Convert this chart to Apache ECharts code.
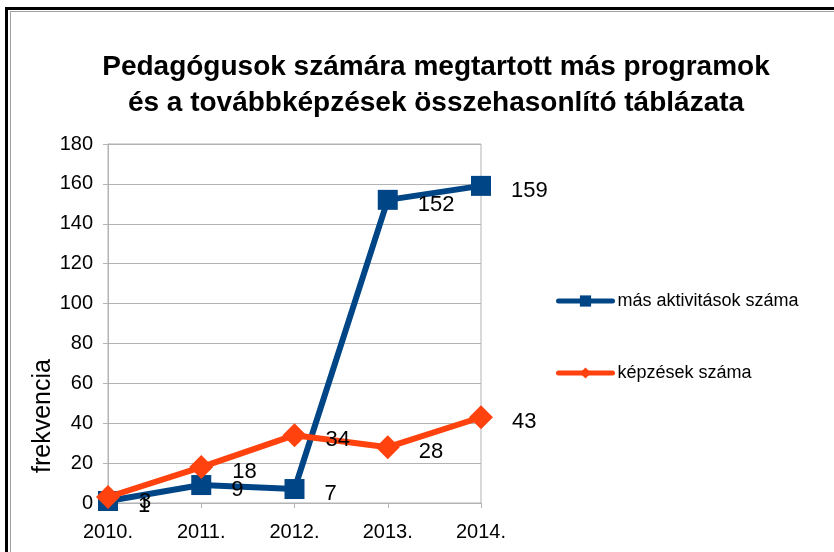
<!DOCTYPE html>
<html>
<head>
<meta charset="utf-8">
<script src="https://cdn.jsdelivr.net/npm/echarts@6/dist/echarts.min.js"></script>
<style>
html,body{margin:0;padding:0;background:#fff;}
#c{width:834px;height:552px;}
</style>
</head>
<body>
<div id="c"></div>
<script>
var titleText = 'Pedagógusok számára megtartott más programok\nés a továbbképzések összehasonlító táblázata';
var yAxisName = 'frekvencia';
var categories = ['2010.', '2011.', '2012.', '2013.', '2014.'];
var seriesNames = ['más aktivitások száma', 'képzések száma'];
var masAktivitasok = [1, 9, 7, 152, 159];
var kepzesek = [3, 18, 34, 28, 43];
var yTicks = { min: 0, max: 180, interval: 20 };

var FONT = '"Liberation Sans", Arial, sans-serif';
var chart = echarts.init(document.getElementById('c'), null, { renderer: 'canvas' });
var gray = '#b3b3b3';
chart.setOption({
  backgroundColor: '#ffffff',
  animation: false,
  title: {
    text: titleText,
    left: 436,
    top: 49,
    padding: 0,
    textAlign: 'center',
    textStyle: { fontFamily: FONT, fontSize: 28, fontWeight: 'bold', color: '#000', lineHeight: 36 }
  },
  graphic: [
    { type: 'rect', shape: { x: 5, y: 7, width: 829, height: 3 }, style: { fill: '#000' }, silent: true },
    { type: 'rect', shape: { x: 5, y: 7, width: 3, height: 545 }, style: { fill: '#000' }, silent: true },
    { type: 'rect', shape: { x: 10, y: 11, width: 824, height: 1 }, style: { fill: '#a0a0a0' }, silent: true },
    { type: 'rect', shape: { x: 10, y: 11, width: 1, height: 541 }, style: { fill: '#a0a0a0' }, silent: true },
    { type: 'text', x: 43, y: 416, rotation: Math.PI / 2,
      style: { text: yAxisName, fontFamily: FONT, fontSize: 25, fill: '#000', align: 'center', verticalAlign: 'middle' } }
  ],
  legend: {
    orient: 'vertical',
    left: 556,
    top: 292,
    padding: 0,
    itemWidth: 54,
    itemHeight: 14,
    itemGap: 54,
    lineStyle: { width: 5, cap: 'round' },
    textStyle: { fontFamily: FONT, fontSize: 18, color: '#000' },
    data: seriesNames
  },
  grid: { left: 108, right: 353, top: 144, bottom: 49, show: true, borderColor: gray, borderWidth: 1, containLabel: false },
  xAxis: {
    type: 'category',
    data: categories,
    boundaryGap: false,
    axisLine: { lineStyle: { color: gray, width: 1 } },
    axisTick: { show: true, length: 5, lineStyle: { color: gray } },
    axisLabel: { fontFamily: FONT, fontSize: 20, color: '#000', margin: 19 },
    splitLine: { show: false }
  },
  yAxis: {
    type: 'value',
    min: yTicks.min, max: yTicks.max, interval: yTicks.interval,
    axisLine: { show: true, lineStyle: { color: gray, width: 1 } },
    axisTick: { show: true, length: 5, lineStyle: { color: gray } },
    axisLabel: { fontFamily: FONT, fontSize: 20, color: '#000', margin: 15 },
    splitLine: { show: true, lineStyle: { color: gray, width: 1 } }
  },
  series: [
    {
      name: seriesNames[0],
      type: 'line',
      data: masAktivitasok,
      color: '#004586',
      symbol: 'rect',
      symbolSize: 20,
      lineStyle: { width: 6, color: '#004586' },
      itemStyle: { color: '#004586' },
      label: { show: true, position: 'right', distance: 20, offset: [0, 5], fontFamily: FONT, fontSize: 22, color: '#000' },
      z: 2
    },
    {
      name: seriesNames[1],
      type: 'line',
      data: kepzesek,
      color: '#ff420e',
      symbol: 'diamond',
      symbolSize: 24,
      lineStyle: { width: 6, color: '#ff420e' },
      itemStyle: { color: '#ff420e' },
      label: { show: true, position: 'right', distance: 19, offset: [0, 5], fontFamily: FONT, fontSize: 22, color: '#000' },
      z: 3
    }
  ]
});
</script>
</body>
</html>
